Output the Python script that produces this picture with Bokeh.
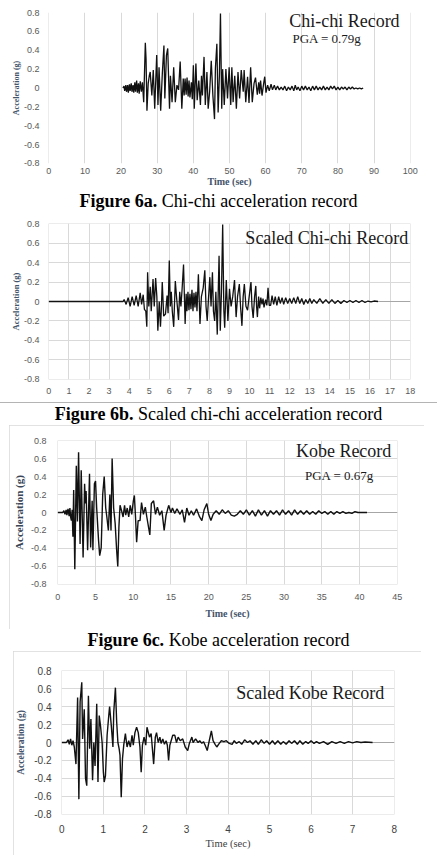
from bokeh.plotting import figure
from bokeh.models import FixedTicker, Label, Div, Span
from bokeh.layouts import column
from bokeh.embed import file_html
from bokeh.resources import INLINE

# ---------------------------------------------------------------------------
# Ground-motion records: (time in s, acceleration in g)
# ---------------------------------------------------------------------------
chichi_record = [
    (20.5, 0.0), (20.8, 0.02), (21.0, -0.03), (21.3, 0.03), (21.5, -0.04), (21.8, 0.03),
    (22.0, -0.05), (22.3, 0.04), (22.5, -0.03), (22.8, 0.05), (23.0, -0.04), (23.3, 0.03),
    (23.5, -0.05), (23.8, 0.06), (24.0, -0.04), (24.3, 0.08), (24.5, -0.05), (24.8, 0.05),
    (25.0, -0.06), (25.3, 0.07), (25.6, -0.04), (25.9, 0.06),
    (26.25, -0.15), (26.7, 0.48), (26.9, 0.31), (27.15, -0.24), (27.5, 0.05), (27.8, 0.13),
    (28.05, 0.17), (28.5, -0.08), (28.9, 0.19), (29.3, -0.22), (29.85, 0.35), (30.2, -0.18),
    (30.5, 0.22), (30.95, -0.24), (31.4, 0.15), (31.85, 0.45), (32.1, -0.11), (32.55, 0.35),
    (32.9, 0.42), (33.4, -0.22), (33.65, 0.13), (34.1, -0.15), (34.55, 0.22), (35.0, -0.15),
    (35.45, 0.03), (35.9, -0.02), (36.35, 0.28), (36.8, -0.22), (37.2, 0.1), (37.45, -0.08),
    (37.7, 0.1), (38.0, -0.07), (38.25, 0.11), (38.55, -0.09), (38.8, 0.08), (39.05, -0.1),
    (39.45, 0.06), (39.7, -0.12), (40.0, 0.24), (40.25, -0.22), (40.7, 0.26), (41.05, -0.13),
    (41.5, 0.08), (41.95, -0.18), (42.25, 0.13), (42.5, -0.08), (42.95, 0.33), (43.3, -0.18),
    (43.75, 0.17), (44.1, -0.22), (44.5, -0.04), (44.95, 0.29), (45.4, -0.08), (45.85, -0.33),
    (46.1, 0.21), (46.5, 0.47), (46.85, -0.26), (47.2, 0.13), (47.5, 0.79), (47.85, -0.22),
    (48.1, 0.2), (48.55, -0.18), (49.0, 0.2), (49.45, -0.11), (49.9, 0.22), (50.35, -0.18),
    (50.65, 0.22), (51.0, -0.15), (51.45, 0.13), (51.9, -0.22), (52.35, 0.17), (52.8, -0.11),
    (53.25, 0.19), (53.8, -0.04), (54.05, 0.19), (54.5, -0.15), (55.0, 0.12), (55.4, -0.16),
    (55.85, 0.22), (56.3, -0.15), (56.8, 0.05), (57.2, 0.11), (57.7, -0.07), (58.1, 0.06),
    (58.35, -0.06), (58.6, 0.08), (59.0, -0.08), (59.5, 0.06), (59.75, 0.12), (60.1, -0.05),
    (60.55, 0.03), (61.0, -0.03), (61.5, 0.04), (61.9, -0.02), (62.4, 0.03), (62.8, -0.02),
    (63.3, 0.02), (63.8, -0.02), (64.3, 0.01), (64.8, -0.02), (65.3, 0.02), (65.8, -0.03),
    (66.3, 0.01), (66.8, -0.02), (67.3, 0.02), (67.8, -0.03), (68.2, 0.03), (68.6, -0.02),
    (69.0, 0.01), (69.5, -0.03), (70.0, 0.02), (70.5, -0.02), (71.0, 0.02), (71.5, -0.02),
    (72.0, 0.01), (72.5, -0.03), (73.0, 0.02), (73.5, -0.02), (74.0, 0.02), (74.5, -0.02),
    (75.0, 0.01), (75.5, -0.02), (76.0, 0.02), (76.5, -0.02), (77.0, 0.01), (77.5, -0.02),
    (78.0, 0.02), (78.5, -0.01), (79.0, 0.02), (79.5, -0.02), (80.0, 0.01), (80.5, -0.02),
    (81.0, 0.01), (81.5, -0.01), (82.0, 0.01), (82.5, -0.02), (83.0, 0.01), (83.5, -0.01),
    (84.0, 0.01), (84.5, -0.01), (85.0, 0.0), (85.5, -0.01), (86.0, 0.0), (86.5, -0.01),
    (87.0, 0.0),
]

scaled_chichi_record = [
    (0.0, 0.0), (3.7, 0.0), (3.75, 0.02), (3.85, -0.03), (3.95, 0.04), (4.05, -0.05),
    (4.15, 0.05), (4.25, -0.04), (4.35, 0.06), (4.45, -0.05), (4.55, 0.09), (4.62, -0.03),
    (4.7, 0.07), (4.76, -0.08), (4.83, -0.1), (4.88, -0.26), (4.92, 0.3), (4.98, -0.05),
    (5.05, 0.15), (5.1, -0.1), (5.19, 0.23), (5.25, -0.05), (5.32, 0.24), (5.38, 0.05),
    (5.43, -0.3), (5.5, 0.0), (5.56, -0.26), (5.6, -0.1), (5.65, 0.2), (5.72, -0.15),
    (5.81, -0.13), (5.89, 0.06), (5.94, -0.12), (6.0, 0.42), (6.05, -0.05), (6.1, 0.1),
    (6.15, -0.1), (6.22, -0.26), (6.3, 0.21), (6.36, 0.05), (6.46, -0.19), (6.52, 0.1),
    (6.58, -0.05), (6.63, 0.1), (6.71, 0.38), (6.79, -0.23), (6.84, 0.08), (6.88, -0.1),
    (6.93, 0.1), (6.98, -0.09), (7.03, 0.08), (7.08, -0.08), (7.13, 0.12), (7.18, -0.1),
    (7.23, 0.09), (7.28, -0.06), (7.33, 0.1), (7.38, -0.1), (7.45, 0.28), (7.53, -0.23),
    (7.6, 0.05), (7.69, 0.14), (7.77, 0.32), (7.83, -0.05), (7.89, -0.2), (7.95, 0.02),
    (8.02, 0.25), (8.08, -0.05), (8.15, 0.3), (8.2, -0.1), (8.26, -0.2), (8.32, 0.1),
    (8.39, -0.34), (8.48, 0.47), (8.54, -0.3), (8.6, 0.1), (8.66, 0.79), (8.72, -0.1),
    (8.76, -0.27), (8.84, 0.22), (8.92, -0.2), (9.0, 0.13), (9.08, -0.05), (9.16, 0.05),
    (9.25, 0.22), (9.33, -0.16), (9.4, 0.05), (9.49, 0.18), (9.55, -0.05), (9.62, -0.25),
    (9.68, 0.05), (9.74, 0.18), (9.82, -0.05), (9.9, -0.09), (9.98, 0.05), (10.07, 0.2),
    (10.12, -0.05), (10.18, -0.17), (10.25, 0.05), (10.31, 0.16), (10.35, -0.05),
    (10.39, -0.16), (10.45, 0.05), (10.5, -0.07), (10.56, 0.04), (10.62, -0.03),
    (10.67, 0.03), (10.72, -0.06), (10.8, 0.02), (10.86, -0.04), (10.92, 0.14),
    (10.98, -0.04), (11.05, -0.04), (11.12, 0.06), (11.2, -0.03), (11.28, 0.05),
    (11.36, -0.04), (11.45, 0.05), (11.53, -0.02), (11.62, 0.04), (11.7, -0.03),
    (11.8, 0.04), (11.9, -0.02), (12.0, 0.03), (12.1, -0.02), (12.2, 0.04), (12.3, -0.02),
    (12.4, 0.05), (12.5, -0.02), (12.6, 0.03), (12.7, -0.03), (12.8, 0.02), (12.9, -0.02),
    (13.0, 0.03), (13.1, -0.02), (13.2, 0.02), (13.35, -0.02), (13.5, 0.03), (13.65, -0.02),
    (13.8, 0.02), (13.95, -0.02), (14.1, 0.02), (14.25, -0.02), (14.4, 0.01), (14.55, -0.02),
    (14.7, 0.01), (14.85, -0.01), (15.0, 0.01), (15.15, -0.01), (15.3, 0.01), (15.45, -0.01),
    (15.6, 0.01), (15.75, -0.01), (15.9, 0.005), (16.05, -0.005), (16.2, 0.005), (16.4, 0.0),
]

kobe_record = [
    (0.0, 0.0), (0.65, 0.0), (0.8, 0.02), (0.95, -0.02), (1.1, 0.03), (1.2, -0.03),
    (1.35, 0.04), (1.5, -0.04), (1.6, 0.05), (1.7, -0.05), (1.8, -0.09), (1.9, 0.03),
    (2.0, -0.27), (2.1, 0.25), (2.25, -0.63), (2.45, 0.52), (2.6, -0.1), (2.75, 0.67),
    (2.95, -0.35), (3.1, 0.47), (3.35, -0.5), (3.55, 0.32), (3.65, 0.1), (3.75, 0.24),
    (3.95, -0.42), (4.2, 0.43), (4.35, -0.39), (4.55, 0.13), (4.65, -0.42), (4.85, 0.32),
    (5.0, 0.35), (5.15, 0.05), (5.4, -0.31), (5.55, -0.48), (5.75, -0.39), (5.95, 0.2),
    (6.15, 0.4), (6.35, 0.05), (6.5, -0.05), (6.7, -0.2), (6.9, 0.2), (7.05, -0.2),
    (7.2, 0.6), (7.4, 0.05), (7.6, -0.12), (7.8, -0.42), (7.95, -0.6), (8.1, -0.16),
    (8.25, 0.08), (8.45, 0.02), (8.65, -0.05), (8.85, 0.08), (9.0, -0.03), (9.2, 0.05),
    (9.4, -0.05), (9.6, 0.08), (9.8, -0.02), (10.0, 0.12), (10.15, 0.19), (10.3, -0.05),
    (10.45, -0.33), (10.65, -0.09), (10.9, -0.09), (11.1, 0.11), (11.35, -0.02), (11.6, 0.06),
    (11.8, -0.05), (12.2, -0.25), (12.4, 0.1), (12.7, 0.13), (12.95, -0.02), (13.2, 0.06),
    (13.5, -0.03), (13.8, 0.02), (14.1, -0.2), (14.35, -0.03), (14.7, 0.08), (15.0, 0.0),
    (15.2, 0.05), (15.5, -0.01), (15.8, 0.04), (16.2, -0.02), (16.5, 0.03), (16.8, -0.11),
    (17.1, 0.05), (17.4, -0.03), (17.7, 0.02), (18.0, -0.03), (18.4, 0.04), (18.8, -0.05),
    (19.1, -0.09), (19.4, 0.03), (19.76, 0.1), (20.0, -0.02), (20.3, -0.09), (20.6, -0.02),
    (21.0, 0.02), (21.4, -0.02), (21.8, 0.03), (22.2, -0.01), (22.6, 0.02), (23.0, -0.03),
    (23.4, -0.04), (23.8, -0.02), (24.2, 0.02), (24.6, -0.02), (25.0, 0.03), (25.4, -0.03),
    (25.8, 0.02), (26.2, -0.04), (26.6, 0.03), (27.0, -0.03), (27.4, 0.02), (27.8, -0.04),
    (28.2, 0.02), (28.6, -0.02), (29.0, 0.02), (29.4, -0.03), (29.8, 0.03), (30.2, -0.02),
    (30.6, 0.02), (31.0, -0.03), (31.4, 0.03), (31.8, -0.02), (32.2, 0.02), (32.6, -0.02),
    (33.0, 0.02), (33.4, -0.02), (33.8, 0.01), (34.2, -0.02), (34.6, 0.02), (35.0, -0.01),
    (35.4, 0.01), (35.8, -0.02), (36.2, 0.01), (36.6, -0.02), (37.0, 0.01), (37.4, -0.01),
    (37.8, 0.01), (38.2, -0.01), (38.6, 0.0), (39.0, -0.01), (39.4, 0.01), (39.8, 0.0),
    (40.3, 0.0), (41.0, 0.0),
]

scaled_kobe_record = [
    (0.0, 0.0), (0.11, 0.0), (0.15, 0.03), (0.18, -0.02), (0.21, 0.04), (0.24, -0.03),
    (0.27, 0.02), (0.3, -0.05), (0.34, -0.24), (0.38, 0.5), (0.41, -0.63), (0.44, 0.45),
    (0.48, 0.67), (0.5, 0.04), (0.54, 0.37), (0.57, -0.4), (0.6, -0.48), (0.64, 0.52),
    (0.67, -0.07), (0.7, 0.26), (0.74, -0.42), (0.77, 0.0), (0.8, -0.26), (0.84, 0.43),
    (0.87, -0.44), (0.9, 0.3), (0.93, 0.19), (0.97, 0.0), (1.0, -0.33), (1.02, -0.44),
    (1.05, -0.37), (1.09, 0.08), (1.13, 0.3), (1.15, 0.4), (1.19, 0.19), (1.23, -0.05),
    (1.25, 0.34), (1.29, 0.61), (1.32, 0.23), (1.35, 0.0), (1.38, -0.07), (1.4, -0.14),
    (1.43, -0.61), (1.46, -0.18), (1.49, -0.03), (1.53, 0.1), (1.57, -0.05), (1.61, 0.02),
    (1.65, -0.05), (1.69, 0.08), (1.72, -0.03), (1.76, 0.11), (1.8, 0.17), (1.84, 0.11),
    (1.88, -0.05), (1.91, -0.33), (1.94, -0.03), (1.98, 0.06), (2.02, -0.03), (2.05, 0.17),
    (2.11, 0.06), (2.15, 0.1), (2.18, -0.07), (2.21, -0.24), (2.25, 0.06), (2.28, 0.11),
    (2.32, 0.0), (2.36, 0.06), (2.39, -0.01), (2.43, 0.04), (2.47, -0.02), (2.51, 0.02),
    (2.54, -0.03), (2.57, -0.2), (2.6, -0.03), (2.67, 0.08), (2.72, 0.08), (2.76, 0.0),
    (2.8, 0.06), (2.85, 0.02), (2.91, 0.04), (2.97, -0.05), (3.03, -0.09), (3.07, -0.01),
    (3.13, 0.06), (3.16, 0.0), (3.22, 0.04), (3.28, 0.0), (3.32, 0.02), (3.37, -0.01),
    (3.41, 0.01), (3.45, -0.03), (3.5, -0.09), (3.54, 0.0), (3.6, 0.13), (3.64, 0.02),
    (3.69, -0.02), (3.73, -0.05), (3.79, -0.01), (3.84, 0.02), (3.9, 0.01), (3.96, 0.02),
    (4.03, -0.01), (4.1, -0.02), (4.15, 0.02), (4.2, -0.01), (4.27, 0.01), (4.33, -0.02),
    (4.4, 0.03), (4.47, 0.0), (4.53, 0.02), (4.6, -0.02), (4.67, 0.02), (4.73, -0.02),
    (4.8, 0.03), (4.87, -0.01), (4.93, 0.02), (5.0, -0.02), (5.07, 0.02), (5.13, -0.02),
    (5.2, 0.02), (5.27, -0.02), (5.33, 0.01), (5.4, -0.02), (5.47, 0.02), (5.53, -0.01),
    (5.6, 0.02), (5.67, -0.02), (5.73, 0.02), (5.8, -0.02), (5.87, 0.01), (5.93, -0.01),
    (6.0, 0.02), (6.07, -0.01), (6.13, 0.01), (6.2, -0.01), (6.3, 0.01), (6.4, -0.02),
    (6.5, 0.01), (6.6, -0.01), (6.7, 0.01), (6.8, -0.01), (6.9, 0.01), (7.0, -0.005),
    (7.1, 0.01), (7.2, 0.0), (7.3, 0.005), (7.48, 0.0),
]

# Axis ticks and their labels
acc_ticks = [-0.8, -0.6, -0.4, -0.2, 0, 0.2, 0.4, 0.6, 0.8]
acc_labels = ["-0.8", "-0.6", "-0.4", "-0.2", "0", "0.2", "0.4", "0.6", "0.8"]
chichi_time_ticks = [0, 10, 20, 30, 40, 50, 60, 70, 80, 90, 100]
scaled_chichi_time_ticks = [0, 1, 2, 3, 4, 5, 6, 7, 8, 9, 10, 11, 12, 13, 14, 15, 16, 17, 18]
kobe_time_ticks = [0, 5, 10, 15, 20, 25, 30, 35, 40, 45]
scaled_kobe_time_ticks = [0, 1, 2, 3, 4, 5, 6, 7, 8]

SERIF = "Liberation Serif"
SANS = "Liberation Sans"
GRID = "#d9d9d9"
EPS = 1e-3  # keeps the gridlines at both range ends visible


def record_panel(record, *, width, height, borders, xmax, xticks,
                 tick_size="9px", tick_color="#595959", x_standoff=6, y_standoff=9,
                 ylab_size="8px", ylab_standoff=0, ylab_color="#44546a",
                 xlab=None, xlab_size="10px", xlab_style="bold", xlab_color="#44546a",
                 xlab_standoff=0, hgrid=True, zero_line=True, line_width=1.0,
                 margin=(0, 0, 0, 0), stylesheets=None):
    top, right, bottom, left = borders
    p = figure(width=width, height=height,
               x_range=(-EPS * xmax, xmax * (1 + EPS)), y_range=(-0.8 - EPS, 0.8 + EPS),
               output_backend="svg", toolbar_location=None,
               min_border_top=top, min_border_right=right,
               min_border_bottom=bottom, min_border_left=left, margin=margin)
    if stylesheets:
        p.stylesheets = stylesheets
    p.outline_line_color = None
    p.background_fill_color = "white"
    p.border_fill_color = "white"

    p.xgrid.grid_line_color = GRID
    p.xgrid.ticker = FixedTicker(ticks=xticks)
    p.ygrid.grid_line_color = GRID if hgrid else None
    p.ygrid.ticker = FixedTicker(ticks=acc_ticks)

    if zero_line:
        p.add_layout(Span(location=0, dimension="width", line_color="#a6a6a6",
                          line_width=1, level="underlay"))

    t = [pt[0] for pt in record]
    a = [pt[1] for pt in record]
    p.line(t, a, line_color="#111111", line_width=line_width)

    xa = p.xaxis[0]
    ya = p.yaxis[0]
    xa.ticker = FixedTicker(ticks=xticks)
    ya.ticker = FixedTicker(ticks=acc_ticks)
    ya.major_label_overrides = dict(zip(acc_ticks, acc_labels))
    for ax in (xa, ya):
        ax.axis_line_color = None
        ax.major_tick_line_color = None
        ax.minor_tick_line_color = None
        ax.major_tick_out = 0
        ax.major_tick_in = 0
        ax.major_label_text_font = SANS
        ax.major_label_text_font_size = tick_size
        ax.major_label_text_color = tick_color
    xa.major_label_standoff = x_standoff
    ya.major_label_standoff = y_standoff

    ya.axis_label = "Acceleration (g)"
    ya.axis_label_text_font = SERIF
    ya.axis_label_text_font_style = "bold"
    ya.axis_label_text_font_size = ylab_size
    ya.axis_label_text_color = ylab_color
    ya.axis_label_standoff = ylab_standoff

    if xlab:
        xa.axis_label = xlab
        xa.axis_label_text_font = SERIF
        xa.axis_label_text_font_style = xlab_style
        xa.axis_label_text_font_size = xlab_size
        xa.axis_label_text_color = xlab_color
        xa.axis_label_standoff = xlab_standoff
    return p


def add_text(p, x, y, text, size):
    p.add_layout(Label(x=x, y=y, text=text, text_align="center", text_baseline="middle",
                       text_font=SERIF, text_font_size=size, text_color="#1a1a1a"))


def caption(bold, rest, height, top_rule=False):
    rule = "border-top:1px solid #b4b4b4;" if top_rule else ""
    style = (f"width:437px;height:{height}px;line-height:{height}px;text-align:center;"
             f"font-family:'{SERIF}',serif;font-size:18px;color:#000;{rule}box-sizing:border-box;")
    return Div(text=f'<div style="{style}"><b>{bold}</b> {rest}</div>',
               width=437, height=height, margin=(0, 0, 0, 0))


# Figure 6a - Chi-chi record
fig_a = record_panel(chichi_record, width=437, height=190, borders=(12, 24, 27, 44),
                     xmax=100, xticks=chichi_time_ticks, x_standoff=4, y_standoff=9,
                     ylab_size="8px", xlab="Time (sec)", xlab_size="10px",
                     xlab_standoff=-1, hgrid=False, zero_line=False, line_width=1.3)
add_text(fig_a, 81.8, 0.715, "Chi-chi Record", "18px")
add_text(fig_a, 77.0, 0.525, "PGA = 0.79g", "13px")

# Figure 6b - scaled Chi-chi record
fig_b = record_panel(scaled_chichi_record, width=437, height=190, borders=(11, 27, 23, 43),
                     xmax=18, xticks=scaled_chichi_time_ticks, x_standoff=8, y_standoff=9,
                     ylab_size="8.5px", line_width=1.3)
add_text(fig_b, 13.85, 0.656, "Scaled Chi-chi Record", "18px")

# Figure 6c - Kobe record
box_css = [":host { outline: 1px solid #d9d9d9; outline-offset: -1px; }"]
fig_c = record_panel(kobe_record, width=415, height=204, borders=(15, 24, 45, 44),
                     xmax=45, xticks=kobe_time_ticks, x_standoff=9, y_standoff=11,
                     ylab_size="11px", ylab_standoff=3, ylab_color="#3a4656",
                     xlab="Time (sec)", xlab_size="10px", xlab_standoff=5,
                     line_width=1.4, margin=(0, 0, 0, 9), stylesheets=box_css)
add_text(fig_c, 37.9, 0.685, "Kobe Record", "18px")
add_text(fig_c, 37.35, 0.41, "PGA = 0.67g", "13px")

# Figure 6d - scaled Kobe record
fig_d = record_panel(scaled_kobe_record, width=408, height=204, borders=(19, 16, 41, 44),
                     xmax=8, xticks=scaled_kobe_time_ticks, tick_size="10px",
                     tick_color="#404040", x_standoff=10, y_standoff=10,
                     ylab_size="9.5px", ylab_standoff=5,
                     xlab="Time (sec)", xlab_size="10.5px", xlab_style="normal",
                     xlab_color="#404040", xlab_standoff=2,
                     line_width=1.4, margin=(0, 0, 0, 13), stylesheets=box_css)
add_text(fig_d, 5.98, 0.556, "Scaled Kobe Record", "18px")

page = column(
    fig_a,
    caption("Figure 6a.", "Chi-chi acceleration record", 22),
    fig_b,
    caption("Figure 6b.", "Scaled chi-chi acceleration record", 23, top_rule=True),
    fig_c,
    caption("Figure 6c.", "Kobe acceleration record", 22),
    fig_d,
    spacing=0,
)

open("out.html", "w").write(file_html(page, INLINE))
